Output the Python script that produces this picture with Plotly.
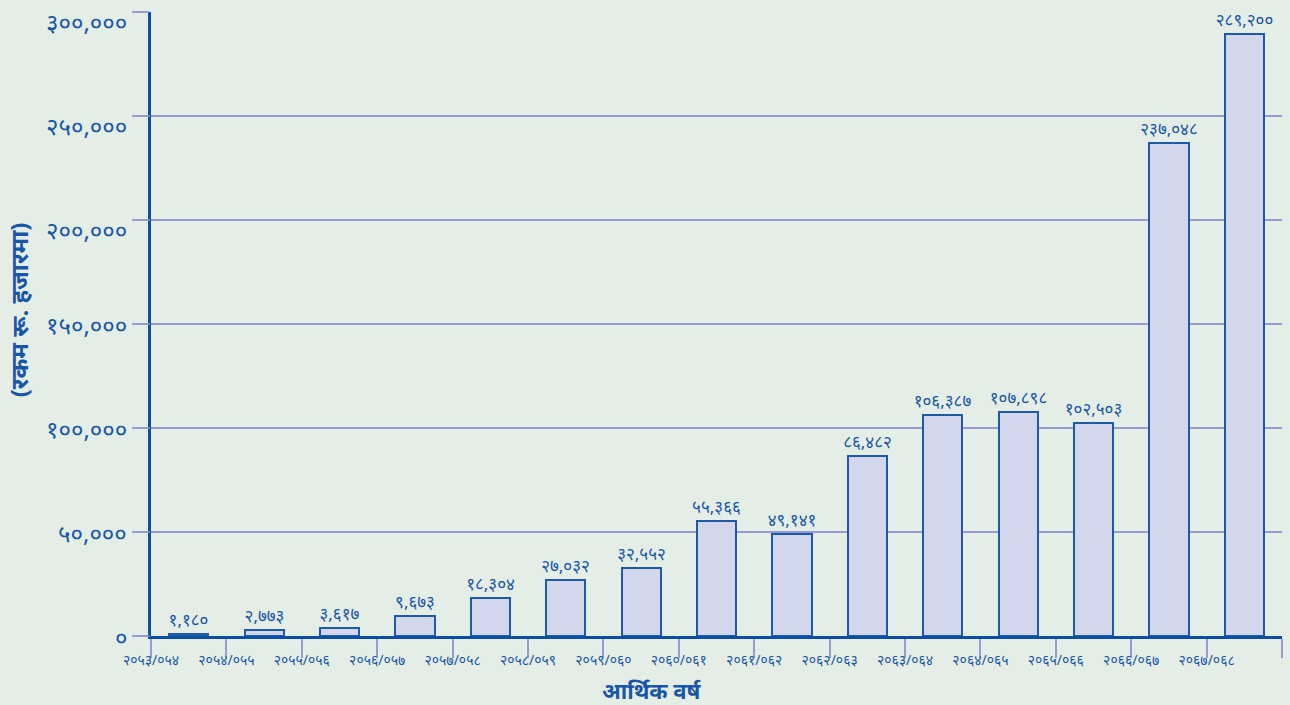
import plotly.graph_objects as go

years = ["२०५३/०५४", "२०५४/०५५", "२०५५/०५६", "२०५६/०५७", "२०५७/०५८", "२०५८/०५९",
         "२०५९/०६०", "२०६०/०६१", "२०६१/०६२", "२०६२/०६३", "२०६३/०६४", "२०६४/०६५",
         "२०६५/०६६", "२०६६/०६७", "२०६७/०६८"]
values = [1180, 2773, 3617, 9673, 18304, 27032, 32552, 55366, 49141, 86482,
          106387, 107898, 102503, 237048, 289200]
y_ticks = [0, 50000, 100000, 150000, 200000, 250000, 300000]
x_title = "आर्थिक वर्ष"
y_title = "(रकम रू. हजारमा)"

DEV = str.maketrans("0123456789", "०१२३४५६७८९")
def dev(n):
    return f"{n:,}".translate(DEV)

BLUE = "#1a56a6"
AXIS = "#0b4ea2"
GRID = "#959dd0"
BG = "#e4eee6"
FONT = "Noto Sans, Noto Sans Devanagari, sans-serif"

xs = list(range(len(values)))
y_max = y_ticks[-1]

fig = go.Figure()
fig.add_trace(go.Bar(
    x=xs, y=values, width=0.52,
    marker=dict(color="#d4d7ec", line=dict(color="#1f5aa8", width=2)),
    text=[dev(v) for v in values], textposition="outside", constraintext="none",
    textfont=dict(color=BLUE, size=17, family=FONT),
    cliponaxis=False, hoverinfo="skip",
))

annotations = [
    dict(text=f"<b>{x_title}</b>", xref="paper", yref="paper", x=0.443, y=0,
         yshift=-54, xanchor="center", yanchor="middle", showarrow=False,
         font=dict(size=22, color=BLUE, family=FONT)),
    dict(text=f"<b>{y_title}</b>", xref="paper", yref="paper", x=0, y=0.522,
         xshift=-133, xanchor="center", yanchor="middle", textangle=-90, showarrow=False,
         font=dict(size=24, color=BLUE, family=FONT)),
]
shapes = []
# y tick labels (upper ones hang just below their gridline, as in the source)
for v in y_ticks:
    upper = v >= 200000
    annotations.append(dict(
        text=dev(v), xref="paper", yref="y", x=0, y=v, xshift=-22,
        yshift=9 if upper else 0,
        xanchor="right", yanchor="top" if upper else "middle",
        showarrow=False, font=dict(size=24, color=BLUE, family=FONT)))
    # outside tick stub extending the gridline left of the axis
    shapes.append(dict(type="line", xref="paper", yref="paper", x0=-0.0142, x1=-0.001,
                       y0=v / y_max, y1=v / y_max, line=dict(color=GRID, width=1.5)))

fig.update_layout(
    width=1290, height=705,
    paper_bgcolor=BG, plot_bgcolor=BG,
    margin=dict(l=151, r=8, t=12, b=69, autoexpand=False),
    showlegend=False, bargap=0,
    font=dict(family=FONT, color=BLUE),
    annotations=annotations, shapes=shapes,
)
fig.update_xaxes(
    range=[-0.5, len(values) - 0.5], automargin=False,
    tickmode="array",
    tickvals=[i - 0.5 for i in range(len(values) + 1)],
    ticktext=years + [""],
    ticks="outside", ticklen=19, tickcolor=GRID, tickwidth=1.5,
    ticklabelstandoff=-10,
    tickfont=dict(size=14, color=BLUE, family=FONT),
    showgrid=False, zeroline=False,
    showline=True, linecolor=AXIS, linewidth=3,
)
fig.update_yaxes(
    range=[0, y_max], automargin=False,
    tickmode="array", tickvals=y_ticks, ticktext=[""] * len(y_ticks),
    ticks="outside", ticklen=16, tickcolor=GRID, tickwidth=1.5,
    showgrid=True, gridcolor=GRID, gridwidth=1.5,
    zeroline=False,
    showline=True, linecolor=AXIS, linewidth=3,
)

fig.write_html("out.html", config={"displayModeBar": False},
               post_script="document.body.style.margin='0';document.body.style.padding='0';")
